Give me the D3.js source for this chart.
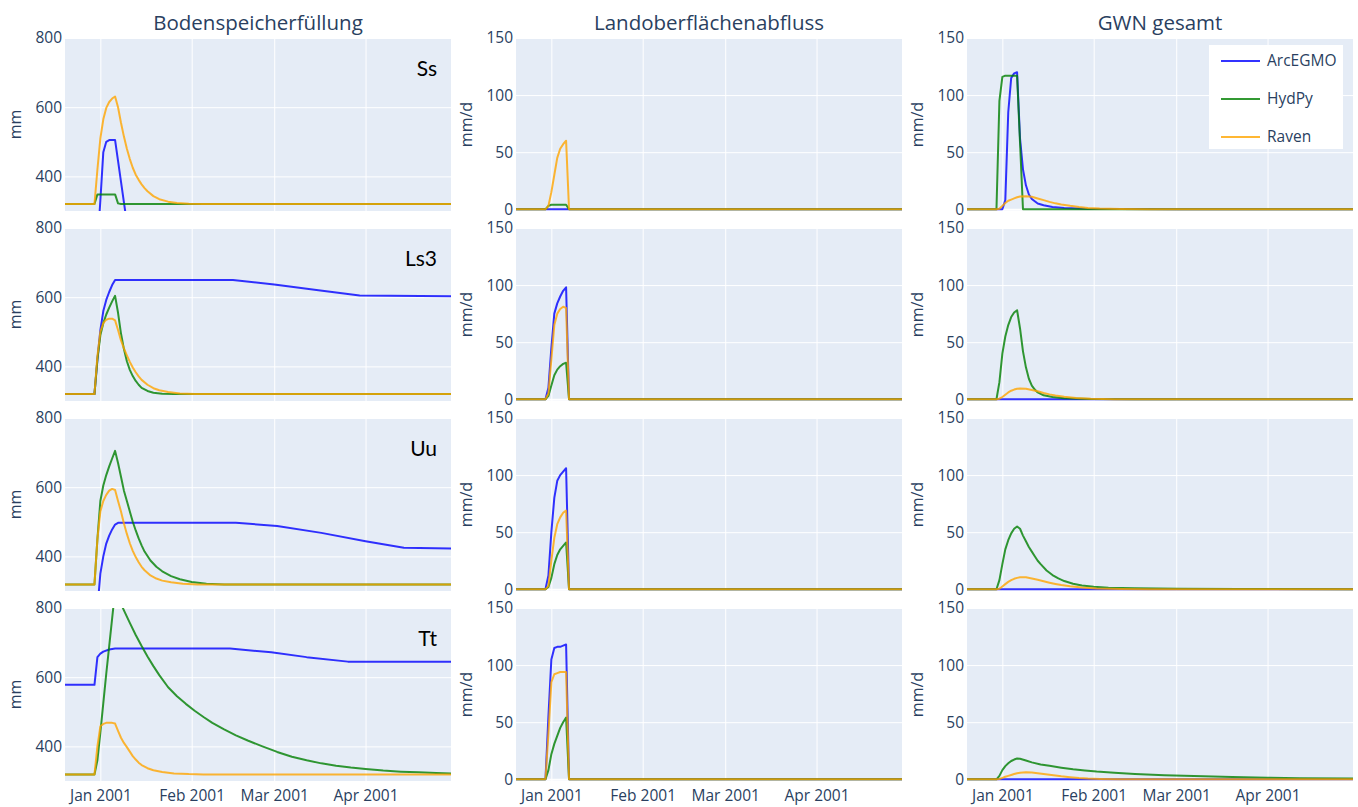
<!DOCTYPE html>
<html>
<head>
<meta charset="utf-8">
<script src="https://cdn.jsdelivr.net/npm/d3@7"></script>
<style>
  body { margin: 0; background: #ffffff; }
  svg text { font-family: "Open Sans", "DejaVu Sans", sans-serif; }
</style>
</head>
<body>
<svg id="chart" width="1358" height="807"></svg>
<script>
// ---- categories / labels ----
const soils = ["Ss", "Ls3", "Uu", "Tt"];
const panelTitles = ["Bodenspeicherfüllung", "Landoberflächenabfluss", "GWN gesamt"];
const unitLabels = ["mm", "mm/d", "mm/d"];
const models = ["ArcEGMO", "HydPy", "Raven"];
const modelColors = ["#0000ff", "#008000", "#ffa500"];
const xTickDates = ["2001-01-01", "2001-02-01", "2001-03-01", "2001-04-01"];
const xTickLabels = ["Jan 2001", "Feb 2001", "Mar 2001", "Apr 2001"];
const storageTicks = [400, 600, 800];
const fluxTicks = [0, 50, 100, 150];
const xStart = "2000-12-20";
const xEnd = "2001-04-30";

// ---- series: [days after 1 Jan 2001, value] ----
// Bodenspeicherfüllung (mm)
const bodenSsArcEGMO = [[-12,200],[-1,200],[0,330],[1,470],[2,500],[3,505],[5,505],[6,445],[7,385],[8,325],[9,265],[10,205],[11,200],[119,200]];
const bodenSsHydPy = [[-12,320],[-2,320],[-1,348],[5,348],[6,322],[7,320],[119,320]];
const bodenSsRaven = [[-12,320],[-2,320],[-1,420],[0,510],[1,565],[2,598],[3,615],[4,625],[5,631],[6,600],[7,555],[8,515],[9,480],[10,450],[11,425],[12,405],[13,390],[14,377],[15,366],[16,357],[18,343],[20,334],[23,327],[26,323],[30,321],[35,320],[119,320]];

const bodenLs3ArcEGMO = [[-12,320],[-2,320],[-1,420],[0,505],[1,560],[2,592],[3,615],[4,635],[5,650],[45,650],[59,637],[74,620],[88,605],[119,603]];
const bodenLs3HydPy = [[-12,320],[-2,320],[-1,420],[0,490],[1,525],[2,550],[3,570],[4,588],[5,604],[6,555],[7,495],[8,450],[9,415],[10,390],[11,372],[12,358],[13,347],[14,338],[16,329],[18,324],[21,321],[25,320],[119,320]];
const bodenLs3Raven = [[-12,320],[-2,320],[-1,430],[0,500],[1,525],[2,535],[3,538],[4,538],[5,533],[6,505],[7,475],[8,452],[9,432],[10,413],[11,397],[12,383],[13,371],[14,361],[16,347],[18,337],[20,331],[23,326],[27,322],[32,320],[119,320]];

const bodenUuArcEGMO = [[-12,200],[-2,200],[-1,250],[0,350],[1,400],[2,437],[3,460],[4,478],[5,492],[6,497],[46,497],[60,488],[75,468],[90,444],[103,425],[119,423]];
const bodenUuHydPy = [[-12,319],[-2,319],[-1,450],[0,560],[1,605],[2,635],[3,660],[4,683],[5,705],[6,670],[7,630],[8,590],[9,560],[10,530],[11,500],[12,475],[13,452],[14,432],[15,414],[17,388],[19,370],[21,357],[24,343],[27,334],[31,326],[36,321],[42,319],[119,319]];
const bodenUuRaven = [[-12,319],[-2,319],[-1,450],[0,530],[1,560],[2,578],[3,590],[4,595],[5,592],[6,560],[7,530],[8,495],[9,465],[10,438],[11,416],[12,398],[13,383],[14,370],[15,360],[17,345],[19,336],[21,330],[24,325],[28,321],[33,319],[119,319]];

const bodenTtArcEGMO = [[-12,578],[-2,578],[-1,658],[0,668],[1,674],[3,680],[5,683],[44,683],[58,672],[70,658],[84,645],[119,645]];
const bodenTtHydPy = [[-12,319],[-2,319],[-1,360],[0,440],[1,525],[2,610],[3,690],[4,770],[5,850],[6,832],[7,812],[8,793],[10,757],[12,722],[14,690],[16,660],[18,632],[20,606],[23,571],[26,545],[29,523],[32,503],[35,485],[38,468],[42,449],[46,432],[50,417],[55,400],[60,384],[65,370],[70,360],[75,351],[80,344],[85,339],[90,335],[96,330],[102,327],[108,325],[114,323],[119,322]];
const bodenTtRaven = [[-12,319],[-2,319],[-1,400],[0,458],[1,465],[2,468],[4,468],[5,466],[6,445],[7,425],[8,410],[9,398],[10,385],[11,372],[12,362],[13,353],[14,346],[16,337],[18,331],[21,326],[25,322],[30,320],[35,319],[119,319]];

// Landoberflächenabfluss (mm/d)
const abflussSsArcEGMO = [[-12,0],[119,0]];
const abflussSsHydPy = [[-12,0],[-2,0],[-1,3],[0,4],[5,4],[6,0],[119,0]];
const abflussSsRaven = [[-12,0],[-2,0],[-1,3],[0,15],[1,30],[2,45],[3,53],[4,57],[5,60],[6,0],[119,0]];

const abflussLs3ArcEGMO = [[-12,0],[-2,0],[-1,10],[0,45],[1,75],[2,84],[3,90],[4,95],[5,98],[6,0],[119,0]];
const abflussLs3HydPy = [[-12,0],[-2,0],[-1,3],[0,12],[1,21],[2,26],[3,29],[4,31],[5,32],[6,0],[119,0]];
const abflussLs3Raven = [[-12,0],[-2,0],[-1,5],[0,35],[1,65],[2,75],[3,79],[4,81],[5,80],[6,0],[119,0]];

const abflussUuArcEGMO = [[-12,0],[-2,0],[-1,12],[0,50],[1,80],[2,95],[3,100],[4,103],[5,106],[6,0],[119,0]];
const abflussUuHydPy = [[-12,0],[-2,0],[-1,2],[0,10],[1,22],[2,30],[3,35],[4,38],[5,41],[6,0],[119,0]];
const abflussUuRaven = [[-12,0],[-2,0],[-1,3],[0,25],[1,45],[2,57],[3,63],[4,67],[5,69],[6,0],[119,0]];

const abflussTtArcEGMO = [[-12,0],[-2,0],[-1,55],[0,105],[1,115],[2,116],[3,116],[4,117],[5,118],[6,0],[119,0]];
const abflussTtHydPy = [[-12,0],[-2,0],[-1,8],[0,22],[1,31],[2,38],[3,45],[4,50],[5,54],[6,0],[119,0]];
const abflussTtRaven = [[-12,0],[-2,0],[-1,40],[0,85],[1,92],[2,93],[3,94],[5,94],[6,0],[119,0]];

// GWN gesamt (mm/d)
const gwnSsArcEGMO = [[-12,0],[0,0],[1,8],[2,85],[3,115],[4,119],[5,120],[6,62],[7,35],[8,21],[9,13],[10,9],[12,5],[14,3.5],[17,2],[21,1.2],[28,0.5],[40,0.2],[60,0],[119,0]];
const gwnSsHydPy = [[-12,0],[-2,0],[-1,95],[0,116],[1,117],[5,117],[6,58],[7,0],[119,0]];
const gwnSsRaven = [[-12,0],[-2,0],[-1,0.5],[0,3],[1,5.5],[2,7.5],[3,8.5],[4,9.5],[5,10.5],[6,11.2],[8,11.5],[10,11],[12,9.5],[14,8],[16,6.5],[18,5.2],[20,4.2],[23,3],[26,2],[29,1.2],[33,0.6],[40,0.2],[50,0],[119,0]];

const gwnLs3ArcEGMO = [[-12,0],[119,0]];
const gwnLs3HydPy = [[-12,0],[-2,0],[-1,15],[0,40],[1,55],[2,65],[3,72],[4,76],[5,78],[6,62],[7,42],[8,28],[9,18],[10,12],[11,8.5],[12,6],[14,3.5],[17,2],[21,1],[30,0.3],[45,0],[119,0]];
const gwnLs3Raven = [[-12,0],[-2,0],[-1,0.5],[0,2],[1,4],[2,6],[3,7.5],[4,8.5],[5,9.2],[6,9.5],[8,9.3],[10,8.2],[12,7],[14,5.5],[16,4.3],[18,3.3],[21,2.2],[25,1.2],[30,0.5],[38,0.1],[45,0],[119,0]];

const gwnUuArcEGMO = [[-12,0],[119,0]];
const gwnUuHydPy = [[-12,0],[-2,0],[-1,8],[0,22],[1,35],[2,43],[3,49],[4,53],[5,55],[6,53],[7,47],[8,42],[9,37],[10,33],[11,29],[12,25],[13,22],[15,16.5],[17,12.5],[19,9.5],[21,7.2],[24,4.8],[27,3.3],[31,2.2],[36,1.4],[45,0.8],[60,0.4],[80,0.2],[119,0.1]];
const gwnUuRaven = [[-12,0],[-2,0],[-1,0.5],[0,2.5],[1,4.5],[2,6.5],[3,8],[4,9.2],[5,10],[6,10.5],[8,10.5],[10,9.5],[12,8.3],[14,7],[16,5.8],[18,4.7],[20,3.7],[23,2.6],[27,1.5],[32,0.7],[40,0.2],[50,0],[119,0]];

const gwnTtArcEGMO = [[-12,0],[119,0]];
const gwnTtHydPy = [[-12,0],[-2,0],[-1,3],[0,8],[1,11.5],[2,14],[3,16],[4,17.3],[5,18.2],[6,18],[8,16.5],[10,14.8],[13,13],[16,11.8],[20,10.2],[24,8.8],[28,7.8],[32,6.8],[38,5.7],[45,4.7],[55,3.6],[65,2.8],[78,2],[90,1.4],[101,1],[119,0.6]];
const gwnTtRaven = [[-12,0],[-2,0],[-1,0.3],[0,1.2],[1,2.2],[2,3],[3,3.8],[4,4.6],[5,5.3],[6,5.8],[8,6.2],[10,5.9],[12,5.3],[14,4.6],[16,4],[18,3.3],[20,2.6],[23,1.8],[26,1.1],[29,0.6],[33,0.3],[40,0],[119,0]];

// panel table: rows = soils, columns = variables, each cell = [ArcEGMO, HydPy, Raven]
const panelSeries = [
  [[bodenSsArcEGMO, bodenSsHydPy, bodenSsRaven], [abflussSsArcEGMO, abflussSsHydPy, abflussSsRaven], [gwnSsArcEGMO, gwnSsHydPy, gwnSsRaven]],
  [[bodenLs3ArcEGMO, bodenLs3HydPy, bodenLs3Raven], [abflussLs3ArcEGMO, abflussLs3HydPy, abflussLs3Raven], [gwnLs3ArcEGMO, gwnLs3HydPy, gwnLs3Raven]],
  [[bodenUuArcEGMO, bodenUuHydPy, bodenUuRaven], [abflussUuArcEGMO, abflussUuHydPy, abflussUuRaven], [gwnUuArcEGMO, gwnUuHydPy, gwnUuRaven]],
  [[bodenTtArcEGMO, bodenTtHydPy, bodenTtRaven], [abflussTtArcEGMO, abflussTtHydPy, abflussTtRaven], [gwnTtArcEGMO, gwnTtHydPy, gwnTtRaven]]
];

// ---- layout ----
const colLeft = [65, 516, 967];
const rowTop = [38, 228, 418, 608];
const plotW = 386, plotH = 173;
const textColor = "#2a3f5f";
const bg = "#E5ECF6";

const day0 = Date.UTC(2001, 0, 1);
const toDate = d => new Date(day0 + d * 864e5);
const parse = d3.utcParse("%Y-%m-%d");

const svg = d3.select("#chart");

const x = d3.scaleUtc().domain([parse(xStart), parse(xEnd)]).range([0, plotW]);
const yStorage = d3.scaleLinear().domain([300, 800]).range([plotH, 0]);
const yFlux = d3.scaleLinear().domain([-1.5, 150]).range([plotH, 0]);
const tickDates = xTickDates.map(parse);

panelTitles.forEach((t, c) => {
  svg.append("text")
    .attr("x", colLeft[c] + plotW / 2).attr("y", 29.5)
    .attr("text-anchor", "middle")
    .attr("font-size", 20.5).attr("fill", textColor)
    .text(t);
});

soils.forEach((soil, r) => {
  for (let c = 0; c < 3; c++) {
    const y = c === 0 ? yStorage : yFlux;
    const yTicks = c === 0 ? storageTicks : fluxTicks;
    const g = svg.append("g").attr("transform", `translate(${colLeft[c]},${rowTop[r]})`);
    const clipId = `clip-${r}-${c}`;
    g.append("clipPath").attr("id", clipId)
      .append("rect").attr("width", plotW).attr("height", plotH);

    g.append("rect").attr("width", plotW).attr("height", plotH).attr("fill", bg);

    // grid
    const gx = g.append("g").call(d3.axisBottom(x).tickValues(tickDates).tickSize(plotH).tickFormat(""));
    gx.select(".domain").remove();
    gx.selectAll("line").attr("stroke", "#ffffff").attr("stroke-width", 1);
    const gy = g.append("g").call(d3.axisLeft(y).tickValues(yTicks).tickSize(-plotW).tickFormat(""));
    gy.select(".domain").remove();
    gy.selectAll("line").attr("stroke", "#ffffff").attr("stroke-width", d => d === 0 ? 2 : 1);

    // y tick labels
    const yl = g.append("g").call(d3.axisLeft(y).tickValues(yTicks).tickSize(0).tickPadding(3));
    yl.select(".domain").remove();
    yl.selectAll("text").attr("font-size", 15.5).attr("fill", textColor)
      .attr("font-family", '"Open Sans", sans-serif');

    // x tick labels on the bottom row
    if (r === soils.length - 1) {
      const xl = g.append("g").attr("transform", `translate(0,${plotH})`)
        .call(d3.axisBottom(x).tickValues(tickDates).tickSize(0).tickPadding(9)
          .tickFormat((d, i) => xTickLabels[i]));
      xl.select(".domain").remove();
      xl.selectAll("text").attr("font-size", 15.5).attr("fill", textColor)
        .attr("font-family", '"Open Sans", sans-serif');
    }

    // axis title
    g.append("text")
      .attr("transform", `translate(-44,${plotH / 2}) rotate(-90)`)
      .attr("text-anchor", "middle")
      .attr("font-size", 16).attr("fill", textColor)
      .text(unitLabels[c]);

    // model lines
    const line = d3.line().x(p => x(toDate(p[0]))).y(p => y(p[1]));
    const lines = g.append("g").attr("clip-path", `url(#${clipId})`);
    panelSeries[r][c].forEach((series, m) => {
      lines.append("path").datum(series)
        .attr("d", line)
        .attr("fill", "none")
        .attr("stroke", modelColors[m])
        .attr("stroke-width", 2)
        .attr("stroke-opacity", 0.8)
        .attr("stroke-linejoin", "round");
    });

    // soil label
    if (c === 0) {
      g.append("text")
        .attr("x", plotW - 14).attr("y", 38)
        .attr("text-anchor", "end")
        .style("font-family", "Lato, Carlito, sans-serif")
        .attr("font-size", 21).attr("fill", "#000000")
        .text(soil);
    }
  }
});

// legend
const lg = svg.append("g").attr("transform", "translate(1209,45)");
lg.append("rect").attr("width", 134).attr("height", 104).attr("fill", "#ffffff");
models.forEach((m, i) => {
  const yy = 16 + i * 38;
  lg.append("line").attr("x1", 12).attr("x2", 51).attr("y1", yy).attr("y2", yy)
    .attr("stroke", modelColors[i]).attr("stroke-width", 2).attr("stroke-opacity", 0.8);
  lg.append("text").attr("x", 58).attr("y", yy).attr("dy", "0.35em")
    .attr("font-size", 15.5).attr("fill", textColor).text(m);
});
</script>
</body>
</html>
